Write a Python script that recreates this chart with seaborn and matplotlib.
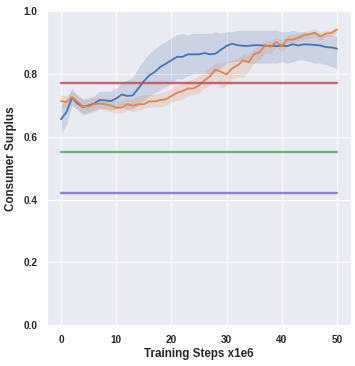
import numpy as np
import pandas as pd
import matplotlib
matplotlib.use("Agg")
import matplotlib.pyplot as plt
import seaborn as sns

steps = list(range(51))

blue_mean = [0.656, 0.679, 0.725, 0.706, 0.695, 0.700, 0.706, 0.717, 0.716, 0.714,
             0.722, 0.735, 0.730, 0.732, 0.754, 0.777, 0.796, 0.807, 0.823, 0.833,
             0.844, 0.855, 0.855, 0.863, 0.863, 0.863, 0.867, 0.863, 0.865, 0.878,
             0.890, 0.897, 0.892, 0.890, 0.890, 0.892, 0.892, 0.890, 0.890, 0.889,
             0.891, 0.889, 0.895, 0.891, 0.895, 0.894, 0.893, 0.891, 0.886, 0.885,
             0.881]
blue_lo = [0.610, 0.640, 0.700, 0.685, 0.670, 0.675, 0.680, 0.690, 0.690, 0.685,
           0.690, 0.695, 0.685, 0.690, 0.700, 0.715, 0.730, 0.740, 0.750, 0.760,
           0.770, 0.785, 0.785, 0.795, 0.800, 0.800, 0.805, 0.800, 0.805, 0.820,
           0.835, 0.840, 0.840, 0.840, 0.835, 0.835, 0.835, 0.835, 0.835, 0.835,
           0.840, 0.835, 0.840, 0.845, 0.845, 0.840, 0.835, 0.835, 0.830, 0.825,
           0.817]
blue_hi = [0.700, 0.720, 0.755, 0.730, 0.720, 0.725, 0.730, 0.745, 0.745, 0.745,
           0.755, 0.775, 0.780, 0.790, 0.820, 0.845, 0.865, 0.880, 0.895, 0.905,
           0.915, 0.925, 0.930, 0.925, 0.930, 0.930, 0.930, 0.930, 0.935, 0.930,
           0.935, 0.935, 0.940, 0.940, 0.940, 0.940, 0.940, 0.940, 0.940, 0.940,
           0.935, 0.935, 0.940, 0.935, 0.935, 0.930, 0.930, 0.930, 0.925, 0.925,
           0.920]

orange_mean = [0.714, 0.711, 0.727, 0.711, 0.697, 0.697, 0.704, 0.706, 0.704, 0.700,
               0.693, 0.693, 0.704, 0.699, 0.704, 0.704, 0.713, 0.713, 0.717, 0.720,
               0.730, 0.740, 0.746, 0.754, 0.754, 0.764, 0.780, 0.793, 0.814, 0.807,
               0.799, 0.818, 0.828, 0.844, 0.838, 0.863, 0.870, 0.892, 0.887, 0.902,
               0.889, 0.910, 0.910, 0.916, 0.924, 0.927, 0.932, 0.920, 0.929, 0.931,
               0.942]
orange_lo = [0.695, 0.690, 0.710, 0.690, 0.675, 0.680, 0.685, 0.690, 0.685, 0.680,
             0.675, 0.675, 0.685, 0.680, 0.685, 0.690, 0.695, 0.695, 0.695, 0.700,
             0.710, 0.715, 0.720, 0.730, 0.735, 0.740, 0.755, 0.765, 0.785, 0.755,
             0.765, 0.785, 0.790, 0.790, 0.810, 0.835, 0.845, 0.870, 0.865, 0.885,
             0.870, 0.895, 0.900, 0.905, 0.910, 0.915, 0.920, 0.905, 0.920, 0.920,
             0.930]
orange_hi = [0.735, 0.730, 0.745, 0.735, 0.720, 0.720, 0.725, 0.725, 0.725, 0.720,
             0.715, 0.715, 0.725, 0.720, 0.730, 0.735, 0.735, 0.735, 0.740, 0.745,
             0.755, 0.765, 0.770, 0.780, 0.785, 0.795, 0.810, 0.820, 0.835, 0.835,
             0.840, 0.845, 0.850, 0.865, 0.865, 0.880, 0.890, 0.905, 0.905, 0.915,
             0.910, 0.925, 0.925, 0.930, 0.935, 0.940, 0.945, 0.935, 0.940, 0.940,
             0.950]

# constant baselines
baseline_red = 0.77
baseline_green = 0.55
baseline_purple = 0.42

sns.set_theme(style="darkgrid")
plt.rcParams['font.family'] = ['Liberation Sans', 'DejaVu Sans']
pal = sns.color_palette("deep")

fig = plt.figure(figsize=(355 / 72, 366 / 72), dpi=72)
ax = fig.add_axes([0.133, 0.112, 0.855, 0.857])

df = pd.DataFrame({"step": steps, "blue": blue_mean, "orange": orange_mean})

sns.lineplot(data=df, x="step", y="blue", color=pal[0], lw=1.8, ax=ax)
ax.fill_between(steps, blue_lo, blue_hi, color=pal[0], alpha=0.2, lw=0)
sns.lineplot(data=df, x="step", y="orange", color=pal[1], lw=1.8, ax=ax)
ax.fill_between(steps, orange_lo, orange_hi, color=pal[1], alpha=0.2, lw=0)

for val, c in [(baseline_red, pal[3]), (baseline_green, pal[2]), (baseline_purple, pal[4])]:
    sns.lineplot(x=[steps[0], steps[-1]], y=[val, val], color=c, lw=2.4, alpha=0.85, ax=ax)

ax.set_ylim(0, 1.0)
ax.set_xticks([0, 10, 20, 30, 40, 50])
ax.set_yticks([0.0, 0.2, 0.4, 0.6, 0.8, 1.0])
ax.set_xlabel("Training Steps x1e6", fontsize=11.6, fontweight="bold", labelpad=3)
ax.set_ylabel("Consumer Surplus", fontsize=11.6, fontweight="bold")
ax.yaxis.set_label_coords(-0.100, 0.529)
for lab in ax.get_xticklabels() + ax.get_yticklabels():
    lab.set_fontweight("bold")
    lab.set_fontsize(10)

fig.savefig("out.png", dpi=72)
